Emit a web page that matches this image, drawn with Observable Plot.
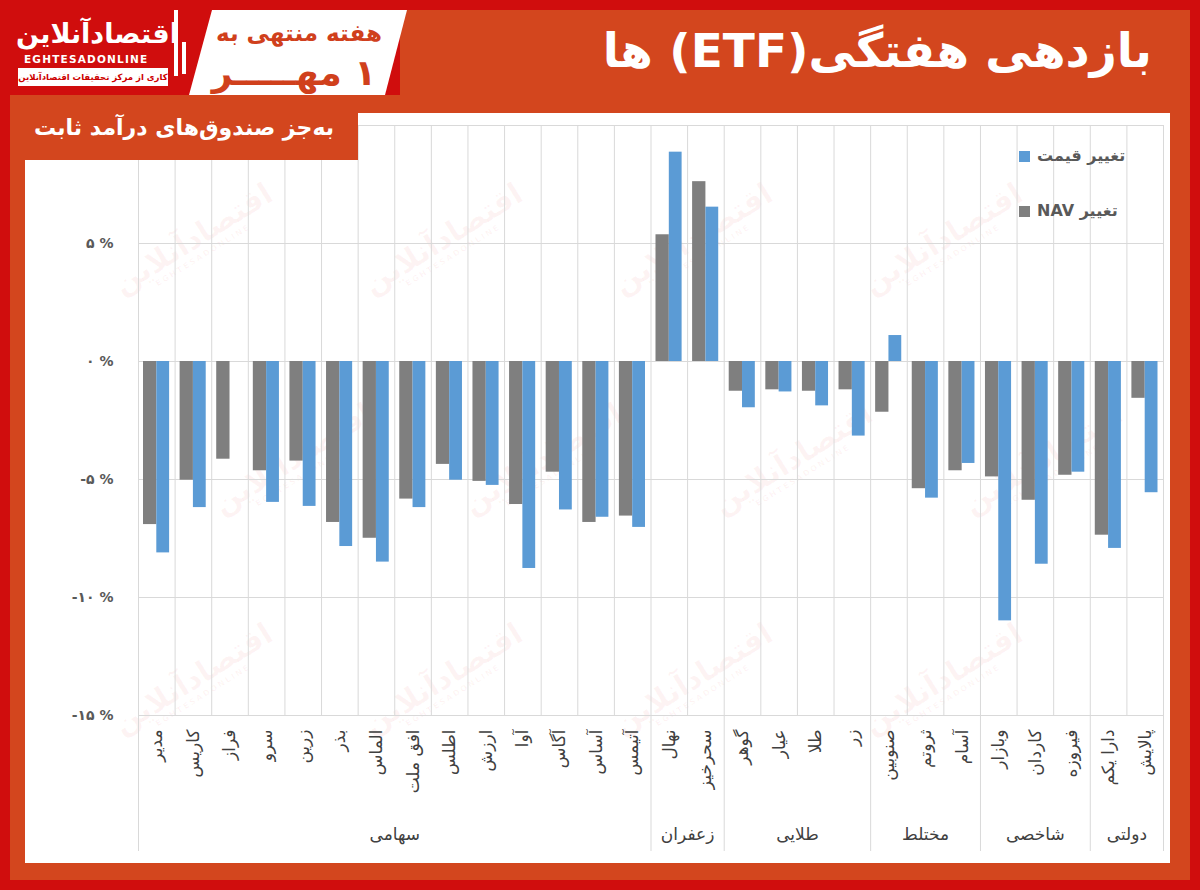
<!DOCTYPE html>
<html>
<head>
<meta charset="utf-8">
<script src="https://cdn.jsdelivr.net/npm/d3@7"></script>
<script src="https://cdn.jsdelivr.net/npm/@observablehq/plot@0.6"></script>
<style>
html,body{margin:0;padding:0;}
body{width:1200px;height:890px;position:relative;overflow:hidden;background:#d00d0d;font-family:"DejaVu Sans",sans-serif;}
.abs{position:absolute;}
#frame{left:10px;top:95px;width:1180px;height:785px;background:#d3461e;}
#header{left:400px;top:10px;width:790px;height:85px;background:#d3461e;}
#panel{left:25px;top:113px;width:1145px;height:750px;background:#fff;overflow:hidden;}
#chart{left:0;top:0;z-index:2;}
#sub{left:10px;top:100px;width:348px;height:60px;background:#d3461e;z-index:3;color:#fff;font-weight:bold;font-size:22px;line-height:56px;text-align:center;white-space:nowrap;}
#title{right:48px;top:16px;color:#fff;font-weight:bold;font-size:47px;line-height:70px;white-space:nowrap;z-index:3;}
#week{left:189px;top:10px;width:218px;height:85px;background:#fff;clip-path:polygon(23px 0,218px 0,196px 85px,0 85px);z-index:3;color:#d0401c;font-weight:bold;text-align:center;white-space:nowrap;}
#week .l1{position:absolute;left:10px;width:200px;top:8px;font-size:23px;line-height:30px;}
#week .l2{position:absolute;left:10px;width:190px;top:40px;font-size:36px;line-height:46px;}
#logo{left:12px;top:8px;width:180px;height:84px;z-index:3;color:#fff;white-space:nowrap;}
#logo .big{position:absolute;left:4px;top:8px;width:150px;text-align:center;font-weight:bold;font-size:27px;line-height:36px;}
#logo .en{position:absolute;left:12px;top:45px;font-weight:bold;font-size:10.5px;letter-spacing:1.2px;}
#logo .box{position:absolute;left:6px;top:60px;width:150px;height:18px;background:#fff;color:#c00;font-size:8.5px;font-weight:bold;text-align:center;line-height:18px;}
#logo .bars{position:absolute;left:162px;top:2px;width:4px;height:66px;background:#fff;}
#logo .bars2{position:absolute;left:170px;top:34px;width:4px;height:32px;background:#fff;}
.legend{z-index:3;font-weight:bold;font-size:16px;color:#595959;white-space:nowrap;}
.legend i{display:inline-block;width:11px;height:11px;margin-right:7px;vertical-align:middle;}
.wm{position:absolute;color:rgba(225,70,70,0.06);font-weight:bold;font-size:30px;transform:rotate(-32deg);white-space:nowrap;line-height:30px;text-align:center;}
.wm span{display:block;font-size:8px;letter-spacing:2px;line-height:10px;}
</style>
</head>
<body>
<div id="frame" class="abs"></div>
<div id="header" class="abs"></div>
<div id="panel" class="abs"></div>
<div id="logo" class="abs"><div class="big">اقتصادآنلاین</div><div class="en">EGHTESADONLINE</div><div class="box" dir="rtl">کاری از مرکز تحقیقات اقتصادآنلاین</div><div class="bars"></div><div class="bars2"></div></div>
<div id="week" class="abs"><div class="l1" dir="rtl">هفته منتهی به</div><div class="l2" dir="rtl">۱ مهـــــر</div></div>
<div id="title" class="abs" dir="rtl">بازدهی هفتگی(ETF) ها</div>
<div id="sub" class="abs" dir="rtl">به‌جز صندوق‌های درآمد ثابت</div>
<div class="abs legend" style="left:1019px;top:146px;"><i style="background:#5b9bd5"></i><span dir="rtl">تغییر قیمت</span></div>
<div class="abs legend" style="left:1019px;top:201px;"><i style="background:#7f7f7f"></i><span dir="rtl">تغییر NAV</span></div>
<script>
// ---- data ----
const categories = ["مدیر","کاریس","فراز","سرو","زرین","بذر","الماس","افق ملت","اطلس","ارزش","آوا","آگاس","آساس","آتیمس","نهال","سحرخیز","گوهر","عیار","طلا","زر","صنوبین","ثروتم","آسام","وبازار","کاردان","فیروزه","دارا یکم","پالایش"];
const navChange = [-6.91,-5.03,-4.14,-4.63,-4.22,-6.82,-7.49,-5.83,-4.36,-5.08,-6.06,-4.69,-6.82,-6.55,5.37,7.62,-1.26,-1.20,-1.26,-1.20,-2.15,-5.39,-4.63,-4.89,-5.88,-4.82,-7.36,-1.56];
const priceChange = [-8.11,-6.19,null,-5.97,-6.14,-7.84,-8.50,-6.19,-5.03,-5.25,-8.77,-6.29,-6.60,-7.03,8.87,6.54,-1.96,-1.29,-1.88,-3.16,1.10,-5.79,-4.32,-10.99,-8.59,-4.69,-7.92,-5.56];
const groups = ["سهامی","زعفران","طلایی","مختلط","شاخصی","دولتی"];
const groupSizes = [14,2,4,3,3,2];
const gridValues = [10,5,0,-5,-10,-15];
const yTicks = [5,0,-5,-10,-15];

// ---- watermarks ----
const panel = document.getElementById("panel");
for (let r = 0; r < 3; r++) {
  for (let c = 0; c < 4; c++) {
    const d = document.createElement("div");
    d.className = "wm";
    d.style.left = (80 + c * 250 + (r % 2) * 100) + "px";
    d.style.top = (110 + r * 220) + "px";
    d.innerHTML = "اقتصادآنلاین<span>EGHTESADONLINE</span>";
    panel.appendChild(d);
  }
}

// ---- chart ----
const W = 1200, H = 890, ML = 138, MR = 37, MT = 125, MB = 175;
const bw = (W - ML - MR) / categories.length;
const faDigits = "۰۱۲۳۴۵۶۷۸۹";
const fa = d => (d < 0 ? "-" : "") + String(Math.abs(d)).replace(/\d/g, c => faDigits[c]) + " %";

const rows = categories.map((name, i) => ({name, nav: navChange[i], price: priceChange[i]}));
let s = 0;
const groupRows = groups.map((label, k) => {
  const n = groupSizes[k];
  const center = s + n / 2;
  const row = {label, first: categories[s], at: categories[Math.floor(center)], even: n % 2 === 0};
  s += n;
  return row;
});
const lastCat = categories[categories.length - 1];
const grid = "#d9d9d9";

const chart = Plot.plot({
  width: W, height: H,
  marginLeft: ML, marginRight: MR, marginTop: MT, marginBottom: MB,
  style: {background: "transparent", fontFamily: "DejaVu Sans, sans-serif", overflow: "visible"},
  x: {type: "band", domain: categories, padding: 0, round: false, axis: null},
  y: {domain: [-15, 10], axis: null},
  marks: [
    Plot.ruleY(gridValues, {stroke: grid, strokeWidth: 1}),
    Plot.ruleX(categories, {x: d => d, dx: -bw / 2, stroke: grid}),
    Plot.ruleX([lastCat], {x: d => d, dx: bw / 2, stroke: grid}),
    Plot.ruleX(groupRows, {x: "first", y1: -15, y2: -15, insetBottom: -136, dx: -bw / 2, stroke: grid}),
    Plot.ruleX([lastCat], {x: d => d, y1: -15, y2: -15, insetBottom: -136, dx: bw / 2, stroke: grid}),
    Plot.barY(rows, {x: "name", y: "nav", fill: "#7f7f7f", insetLeft: 5, insetRight: bw / 2}),
    Plot.barY(rows.filter(d => d.price != null), {x: "name", y: "price", fill: "#5b9bd5", insetLeft: bw / 2, insetRight: 5.5}),
    Plot.axisY({ticks: yTicks, tickSize: 0, tickPadding: 25, tickFormat: fa, fontSize: 14, fontWeight: "bold", fill: "#595959", label: null}),
    Plot.text(categories, {x: d => d, frameAnchor: "bottom", dy: 14, rotate: -90, textAnchor: "end", lineAnchor: "middle", fontSize: 17, fill: "#404040"}),
    Plot.text(groupRows.filter(d => d.even), {x: "at", text: "label", frameAnchor: "bottom", dy: 119, dx: -bw / 2, lineAnchor: "middle", fontSize: 17, fill: "#404040"}),
    Plot.text(groupRows.filter(d => !d.even), {x: "at", text: "label", frameAnchor: "bottom", dy: 119, lineAnchor: "middle", fontSize: 17, fill: "#404040"})
  ]
});
chart.id = "chart";
chart.classList.add("abs");
document.body.appendChild(chart);
</script>
</body>
</html>
